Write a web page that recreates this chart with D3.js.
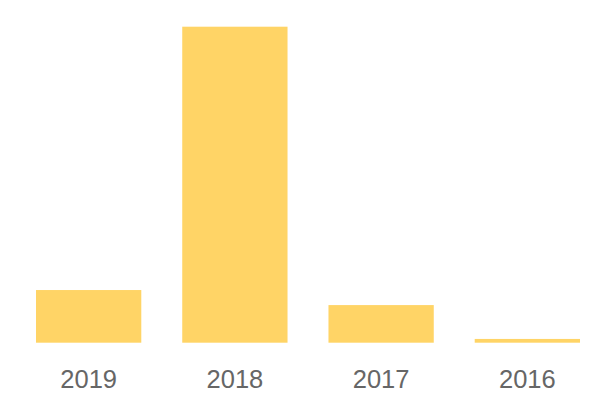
<!DOCTYPE html>
<html><head><meta charset="utf-8">
<script src="https://cdn.jsdelivr.net/npm/d3@7"></script>
<style>body{margin:0;background:#fff}</style>
</head><body>
<script>
const categories = ["2019", "2018", "2017", "2016"];
const values = [14, 84, 10, 1];

const W = 600, H = 400;
const svg = d3.select("body").append("svg").attr("width", W).attr("height", H);

const x = d3.scaleBand().domain(categories).range([36, 580]).paddingInner(0.28).paddingOuter(0);
const y = d3.scaleLinear().domain([0, 84]).range([342.7, 26.7]);

svg.selectAll("rect.bar").data(categories).join("rect")
  .attr("class", "bar")
  .attr("x", d => x(d))
  .attr("width", x.bandwidth())
  .attr("y", (d, i) => y(values[i]))
  .attr("height", (d, i) => y(0) - y(values[i]))
  .attr("fill", "#ffd466");

const axis = d3.axisBottom(x).tickSize(0).tickPadding(0);
const g = svg.append("g").attr("transform", "translate(0,388)").call(axis);
g.select(".domain").remove();
g.selectAll("text")
  .attr("dy", "0")
  .attr("font-family", "'Liberation Sans', Arial, sans-serif")
  .attr("font-size", 25.5)
  .attr("fill", "#666");
</script>
</body></html>
